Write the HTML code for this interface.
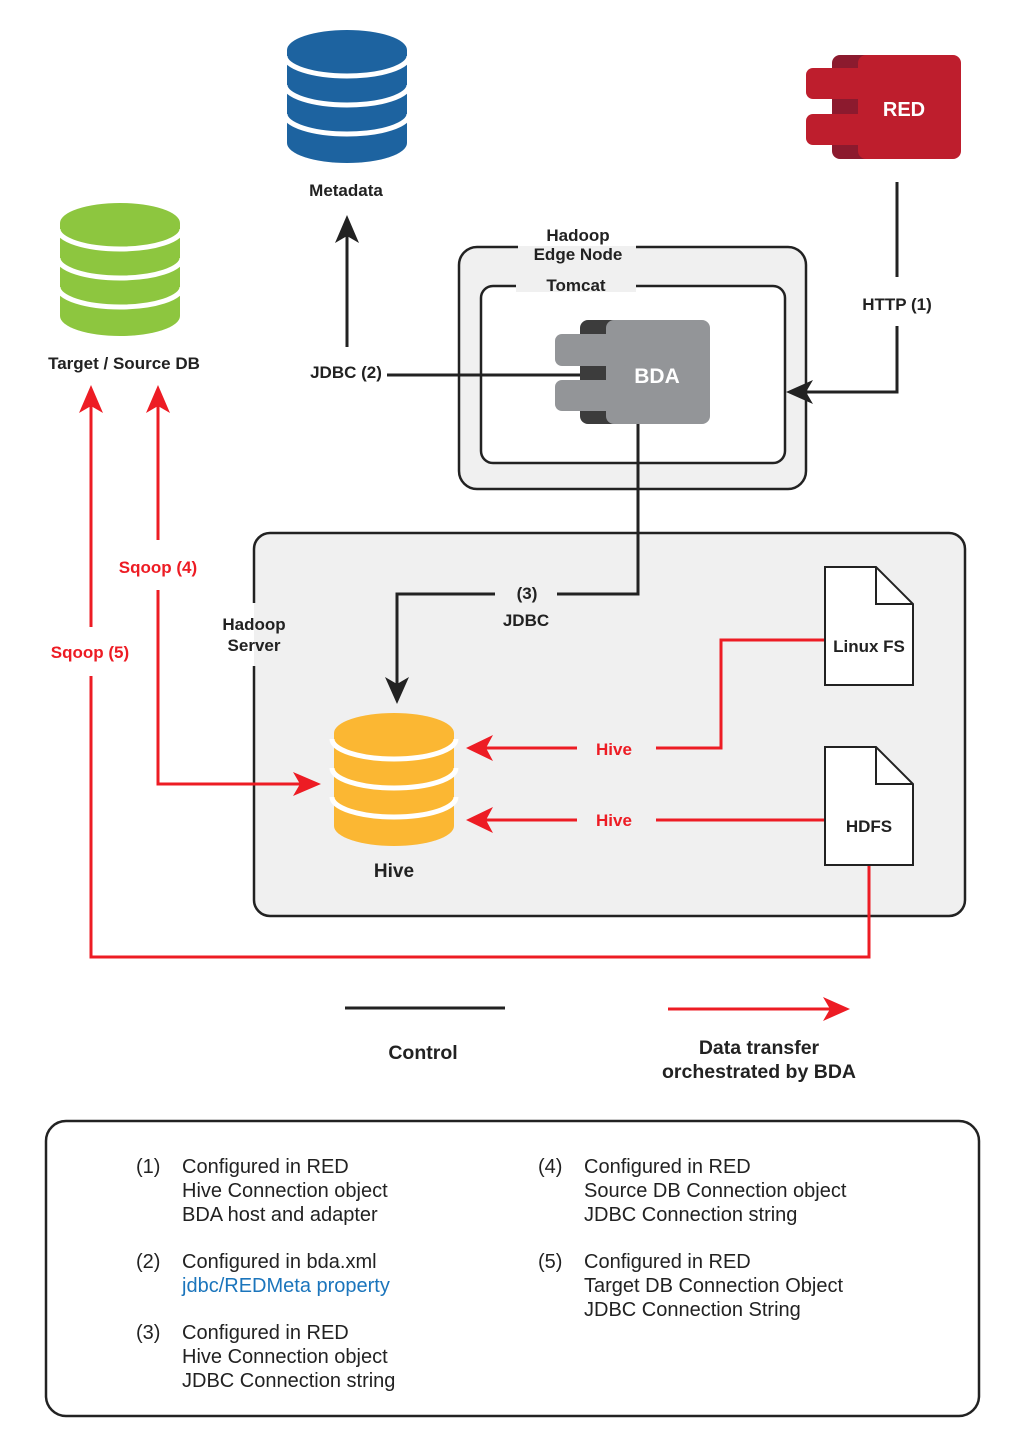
<!DOCTYPE html>
<html><head><meta charset="utf-8"><style>
html,body{margin:0;padding:0;background:#fff;}
svg{display:block;}
text{font-family:"Liberation Sans",Arial,sans-serif;}
.b{font-weight:bold;font-size:17px;fill:#222;}
.r{font-weight:bold;font-size:17px;fill:#ed1c24;}
.n{font-size:20px;fill:#222;}
</style></head><body>
<svg width="1024" height="1448" viewBox="0 0 1024 1448" xmlns="http://www.w3.org/2000/svg">
<defs>
<g id="db">
  <path d="M-60,0 A60,20 0 0 1 60,0 L60,93 A60,20 0 0 1 -60,93 Z"/>
  <path d="M-62,6 A62,20 0 0 0 62,6 M-62,35 A62,20 0 0 0 62,35 M-62,64 A62,20 0 0 0 62,64" fill="none" stroke="#fff" stroke-width="5"/>
</g>
</defs>

<g fill="#1d63a0" transform="translate(347,50)"><use href="#db"/></g>
<g fill="#8dc63f" transform="translate(120,223)"><use href="#db"/></g>

<text class="b" x="346" y="196" text-anchor="middle">Metadata</text>
<text class="b" x="124" y="369" text-anchor="middle">Target / Source DB</text>

<rect x="832" y="55" width="60" height="104" rx="8" fill="#8c1a2e"/>
<rect x="858" y="55" width="103" height="104" rx="8" fill="#be1e2d"/>
<rect x="806" y="68" width="75" height="31" rx="7" fill="#be1e2d"/>
<rect x="806" y="114" width="75" height="31" rx="7" fill="#be1e2d"/>
<text x="904" y="116" text-anchor="middle" font-weight="bold" font-size="20" fill="#fff">RED</text>

<rect x="459" y="247" width="347" height="242" rx="18" fill="#f0f0f0" stroke="#222" stroke-width="2.5"/>
<rect x="518" y="240" width="118" height="16" fill="#f0f0f0"/>
<rect x="481" y="286" width="304" height="177" rx="12" fill="#fff" stroke="#222" stroke-width="2.5"/>
<rect x="516" y="280" width="120" height="12" fill="#f0f0f0"/>
<rect x="518" y="238" width="118" height="8" fill="#fff"/>
<text class="b" x="578" y="241" text-anchor="middle">Hadoop</text>
<text class="b" x="578" y="260" text-anchor="middle">Edge Node</text>
<text class="b" x="576" y="291" text-anchor="middle">Tomcat</text>

<rect x="580" y="320" width="60" height="104" rx="8" fill="#3c3c3c"/>
<rect x="606" y="320" width="104" height="104" rx="8" fill="#939598"/>
<rect x="555" y="334" width="75" height="32" rx="7" fill="#939598"/>
<rect x="555" y="380" width="75" height="31" rx="7" fill="#939598"/>
<text x="657" y="383" text-anchor="middle" font-weight="bold" font-size="21" fill="#fff">BDA</text>

<rect x="254" y="533" width="711" height="383" rx="16" fill="#f0f0f0" stroke="#222" stroke-width="2.5"/>
<rect x="244" y="603" width="20" height="63" fill="#f0f0f0"/>
<rect x="200" y="603" width="54" height="63" fill="#fff"/>
<text class="b" x="254" y="630" text-anchor="middle">Hadoop</text>
<text class="b" x="254" y="651" text-anchor="middle">Server</text>

<g fill="#fbb733" transform="translate(394,733)"><use href="#db"/></g>
<text x="394" y="877" text-anchor="middle" font-weight="bold" font-size="19" fill="#222">Hive</text>

<path d="M825,567 H876 L913,604 V685 H825 Z" fill="#fff" stroke="#222" stroke-width="2"/>
<path d="M876,567 V604 H913" fill="none" stroke="#222" stroke-width="2"/>
<text class="b" x="869" y="652" text-anchor="middle">Linux FS</text>
<path d="M825,747 H876 L913,784 V865 H825 Z" fill="#fff" stroke="#222" stroke-width="2"/>
<path d="M876,747 V784 H913" fill="none" stroke="#222" stroke-width="2"/>
<text class="b" x="869" y="832" text-anchor="middle">HDFS</text>

<g stroke="#222" stroke-width="3" fill="none">
  <path d="M347,347 V235"/>
  <path d="M387,375 H580"/>
  <path d="M897,182 V277"/>
  <path d="M897,326 V392 H805"/>
  <path d="M638,424 V594 H557"/>
  <path d="M495,594 H397 V685"/>
  <path d="M345,1008 H505"/>
</g>
<g fill="#222">
  <path d="M347,215 L359,243 L347,236 L335,243 Z"/>
  <path d="M786,392 L813,380 L806,392 L813,404 Z"/>
  <path d="M397,704 L385,677 L397,684 L409,677 Z"/>
</g>
<text class="b" x="346" y="378" text-anchor="middle">JDBC (2)</text>
<text class="b" x="897" y="310" text-anchor="middle">HTTP (1)</text>
<text class="b" x="527" y="599" text-anchor="middle">(3)</text>
<text class="b" x="526" y="626" text-anchor="middle">JDBC</text>

<g stroke="#ed1c24" stroke-width="3" fill="none">
  <path d="M158,540 V405"/>
  <path d="M158,590 V784 H300"/>
  <path d="M91,627 V405"/>
  <path d="M91,676 V957 H869 V866"/>
  <path d="M824,640 H721 V748 H656"/>
  <path d="M577,748 H485"/>
  <path d="M824,820 H656"/>
  <path d="M577,820 H485"/>
  <path d="M668,1009 H830"/>
</g>
<g fill="#ed1c24">
  <path d="M158,385 L170,413 L158,406 L146,413 Z"/>
  <path d="M91,385 L103,413 L91,406 L79,413 Z"/>
  <path d="M321,784 L293,772 L300,784 L293,796 Z"/>
  <path d="M466,748 L493,735 L486,748 L493,761 Z"/>
  <path d="M466,820 L493,807 L486,820 L493,833 Z"/>
  <path d="M850,1009 L823,997 L830,1009 L823,1021 Z"/>
</g>
<text class="r" x="158" y="573" text-anchor="middle">Sqoop (4)</text>
<text class="r" x="90" y="658" text-anchor="middle">Sqoop (5)</text>
<text class="r" x="614" y="755" text-anchor="middle">Hive</text>
<text class="r" x="614" y="826" text-anchor="middle">Hive</text>

<text x="423" y="1059" text-anchor="middle" font-weight="bold" font-size="19.5" fill="#222">Control</text>
<text x="759" y="1054" text-anchor="middle" font-weight="bold" font-size="19.5" fill="#222">Data transfer</text>
<text x="759" y="1078" text-anchor="middle" font-weight="bold" font-size="19.5" fill="#222">orchestrated by BDA</text>

<rect x="46" y="1121" width="933" height="295" rx="20" fill="#fff" stroke="#222" stroke-width="2.5"/>
<text class="n" x="136" y="1173">(1)</text>
<text class="n" x="182" y="1173">Configured in RED</text>
<text class="n" x="182" y="1197">Hive Connection object</text>
<text class="n" x="182" y="1221">BDA host and adapter</text>
<text class="n" x="136" y="1268">(2)</text>
<text class="n" x="182" y="1268">Configured in bda.xml</text>
<text x="182" y="1292" font-size="20" fill="#1b75bc">jdbc/REDMeta property</text>
<text class="n" x="136" y="1339">(3)</text>
<text class="n" x="182" y="1339">Configured in RED</text>
<text class="n" x="182" y="1363">Hive Connection object</text>
<text class="n" x="182" y="1387">JDBC Connection string</text>
<text class="n" x="538" y="1173">(4)</text>
<text class="n" x="584" y="1173">Configured in RED</text>
<text class="n" x="584" y="1197">Source DB Connection object</text>
<text class="n" x="584" y="1221">JDBC Connection string</text>
<text class="n" x="538" y="1268">(5)</text>
<text class="n" x="584" y="1268">Configured in RED</text>
<text class="n" x="584" y="1292">Target DB Connection Object</text>
<text class="n" x="584" y="1316">JDBC Connection String</text>
</svg>
</body></html>
